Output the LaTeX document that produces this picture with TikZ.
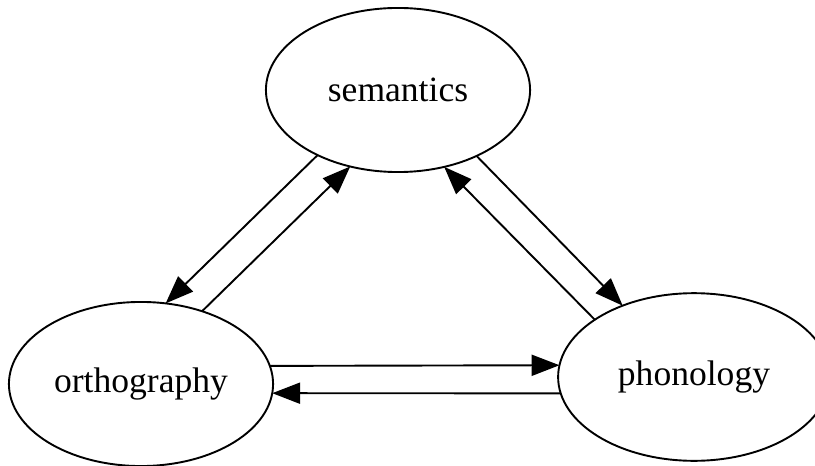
\documentclass[tikz,border=0pt]{standalone}
\usepackage{fontspec}
\setmainfont{Liberation Serif}
\usepackage{tikz}
\usetikzlibrary{shapes.geometric,arrows.meta}

\begin{document}
\begin{tikzpicture}[x=0.3937pt,y=-0.3937pt,
  lexnode/.style={draw,ellipse,line width=0.75pt,inner sep=0pt,outer sep=0pt,
    minimum width=104pt,minimum height=64.6pt,font=\fontsize{14}{16}\selectfont},
  link/.style={line width=0.75pt,-{Triangle[length=11pt,width=8.3pt]}}]
\useasboundingbox (0,0) rectangle (815,466);
\node[lexnode] (sem) at (398,90) {semantics};
\node[lexnode] (orth) at (141,384) {orthography};
\node[lexnode,minimum width=107pt,minimum height=66pt] (phon) at (694,377) {phonology};
\foreach \from/\to in {sem.219/orth.73,orth.50/sem.238,sem.320/phon.135,phon.150/sem.301,orth.8/phon.175,phon.187/orth.-4}
\draw[link] (\from) -- (\to);
\end{tikzpicture}
\end{document}
